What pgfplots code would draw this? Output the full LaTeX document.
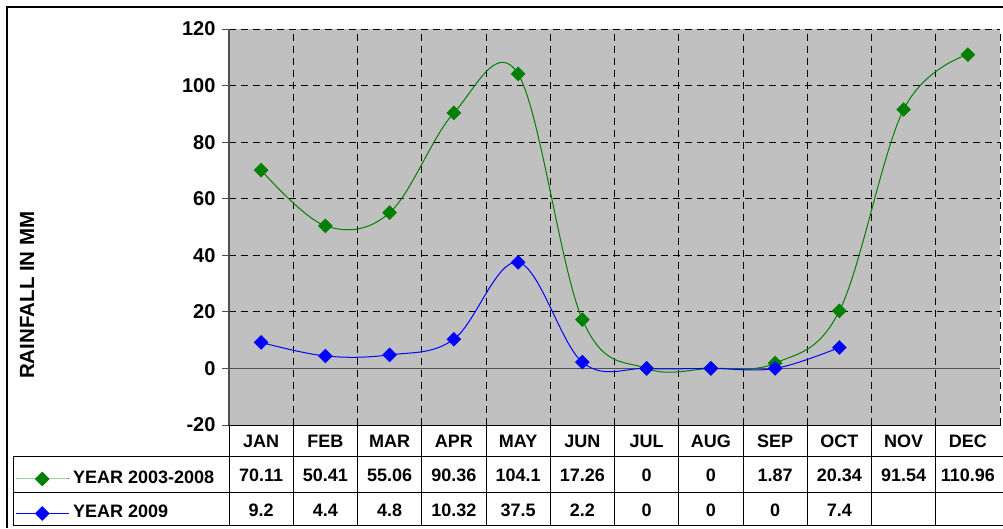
\documentclass[border=0pt]{standalone}
\usepackage{pgfplots}
\pgfplotsset{compat=1.18}
\usepackage{fontspec}
\setmainfont{Liberation Sans}
\definecolor{plotbg}{RGB}{192,192,192}
\definecolor{exgreen}{RGB}{0,128,0}
\definecolor{axgray}{RGB}{80,80,80}
\newcommand\tickfont{\fontsize{20}{24}\selectfont\bfseries}
\newcommand\tabfont{\fontsize{18}{21}\selectfont\bfseries}

\pgfplotstableread{
x y
0.5 70.11
1.5 50.41
2.5 55.06
3.5 90.36
4.5 104.1
5.5 17.26
6.5 0
7.5 0
8.5 1.87
9.5 20.34
10.5 91.54
11.5 110.96
}\greendata
\pgfplotstableread{
x y
0.5 9.2
1.5 4.4
2.5 4.8
3.5 10.32
4.5 37.5
5.5 2.2
6.5 0
7.5 0
8.5 0
9.5 7.4
}\bluedata

\begin{document}
\begin{tikzpicture}
\useasboundingbox (-229pt,-103pt) rectangle (774pt,425pt);
\begin{axis}[
  at={(0pt,0pt)}, anchor=south west, scale only axis,
  width=771pt, height=396pt,
  xmin=0, xmax=12, ymin=-20, ymax=120,
  xtick={0,...,12}, xticklabels={}, xtick style={draw=none},
  ytick={-20,0,...,120}, ytick pos=left, tick align=outside,
  major tick length=7pt,
  ytick style={axgray, line width=1pt},
  yticklabel style={font=\tickfont, xshift=-3pt},
  /pgf/number format/assume math mode=true,
  axis line style={draw=none},
  axis background/.style={fill=plotbg},
  grid=major,
  grid style={black, line width=0.8pt, dash pattern=on 7pt off 5pt},
  ylabel={RAINFALL IN MM},
  ylabel style={font=\fontsize{20.5}{24}\selectfont\bfseries,
    at={(axis description cs:-0.262,0.328)}, anchor=center},
  legend cell align=left,
  legend image code/.code={\draw[#1, mark repeat=2, mark phase=2] plot coordinates {(0pt,0pt) (26.5pt,0pt) (53pt,0pt)};},
  legend style={at={(axis description cs:-0.2776,-0.1799)}, anchor=west,
    draw=none, fill=none, inner sep=0pt, font=\tabfont, row sep=17.5pt,
    nodes={inner sep=0pt, text height=13pt, text depth=4pt},
    /tikz/every odd column/.append style={column sep=4pt}},
  clip=false,
]
\draw[axgray, line width=1.6pt] (axis cs:0,-20) -- (axis cs:0,120);
\draw[axgray, line width=1.6pt] (axis cs:0,0) -- (axis cs:12,0);
\addplot[exgreen, line width=1pt, smooth, tension=0.6,
  mark=square*, mark size=4.7pt,
  mark options={rotate=45, solid, fill=exgreen, draw=exgreen}]
  table[x=x, y=y] {\greendata};
\addlegendentry{YEAR 2003-2008}
\addplot[blue, line width=1pt, smooth, tension=0.6,
  mark=square*, mark size=4.7pt,
  mark options={rotate=45, solid, fill=blue, draw=blue}]
  table[x=x, y=y] {\bluedata};
\addlegendentry{YEAR 2009}
\end{axis}
% data table
\begin{scope}[font=\tabfont]
\draw[black, line width=1pt] (-1pt,0pt) -- (772pt,0pt);
\foreach \k in {0,...,11} {
  \draw[black, line width=0.9pt] ({\k*64.25pt},0pt) -- ({\k*64.25pt},-100pt);
}
\draw[black, line width=0.9pt] (-216pt,-31pt) -- (774pt,-31pt);
\draw[black, line width=0.9pt] (-216pt,-67pt) -- (774pt,-67pt);
\draw[black, line width=0.9pt] (-216pt,-100pt) -- (774pt,-100pt);
\draw[black, line width=0.9pt] (-216pt,-31pt) -- (-216pt,-100pt);
\foreach \m [count=\i from 0] in {JAN,FEB,MAR,APR,MAY,JUN,JUL,AUG,SEP,OCT,NOV,DEC} {
  \node[anchor=base, inner sep=0pt] at ({(\i+0.5)*64.25pt},-22.3pt) {\m};
}
\foreach \v [count=\i from 0] in {70.11,50.41,55.06,90.36,104.1,17.26,0,0,1.87,20.34,91.54,110.96} {
  \node[anchor=base, inner sep=0pt] at ({(\i+0.5)*64.25pt},-56.7pt) {\v};
}
\foreach \v [count=\i from 0] in {9.2,4.4,4.8,10.32,37.5,2.2,0,0,0,7.4} {
  \node[anchor=base, inner sep=0pt] at ({(\i+0.5)*64.25pt},-91pt) {\v};
}
\end{scope}
% chart border
\draw[black, line width=1.5pt] (-222pt,-103pt) -- (-222pt,418pt) -- (774pt,418pt);
\end{tikzpicture}
\end{document}
